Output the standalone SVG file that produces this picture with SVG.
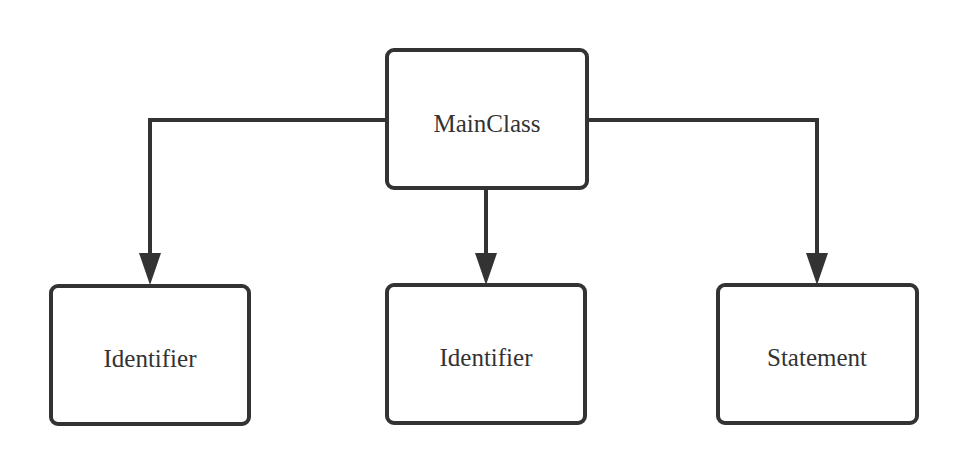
<svg xmlns="http://www.w3.org/2000/svg" width="967" height="475" viewBox="0 0 967 475">
<style>
.box{fill:#fff;stroke:#333;stroke-width:4}
.lbl{font-family:"Liberation Serif",serif;font-size:25px;fill:#333;text-anchor:middle}
.edge{fill:none;stroke:#333;stroke-width:4}
.head{fill:#333}
</style>
<rect width="967" height="475" fill="#fff"/>
<g id="connectors">
<path class="edge" d="M387,120 L150,120 L150,254"/>
<path class="head" d="M139,253 L161,253 L150,285 Z"/>
<path class="edge" d="M486,188 L486,254"/>
<path class="head" d="M475,253 L497,253 L486,285 Z"/>
<path class="edge" d="M587,120 L817,120 L817,254"/>
<path class="head" d="M806,253 L828,253 L817,285 Z"/>
</g>
<g id="mainclass">
<rect class="box" x="387" y="50" width="200" height="138" rx="7"/>
<text class="lbl" x="487" y="132">MainClass</text>
</g>
<g id="identifier1">
<rect class="box" x="51" y="286" width="198" height="138" rx="7"/>
<text class="lbl" x="150" y="367">Identifier</text>
</g>
<g id="identifier2">
<rect class="box" x="387" y="285" width="198" height="138" rx="7"/>
<text class="lbl" x="486" y="366">Identifier</text>
</g>
<g id="statement">
<rect class="box" x="718" y="285" width="199" height="138" rx="7"/>
<text class="lbl" x="817" y="366">Statement</text>
</g>
</svg>
